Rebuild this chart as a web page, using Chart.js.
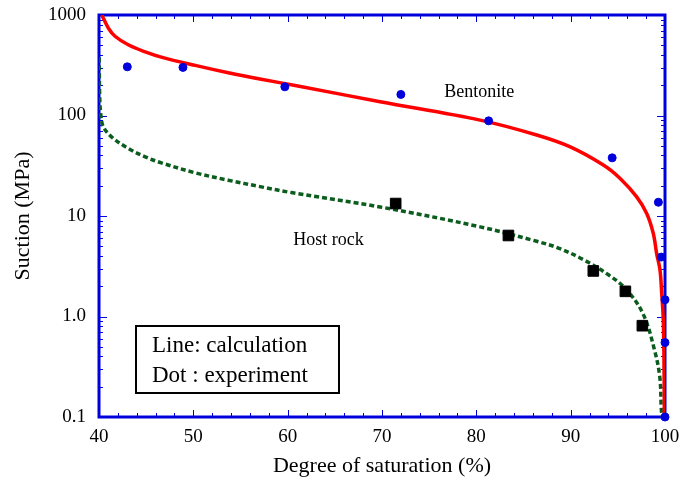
<!DOCTYPE html>
<html>
<head>
<meta charset="utf-8">
<script src="https://cdn.jsdelivr.net/npm/chart.js@4"></script>
<style>
  html, body { margin: 0; padding: 0; background: #fff; }
  #wrap { width: 680px; height: 483px; }
</style>
</head>
<body>
<div id="wrap"><canvas id="chart" width="680" height="483"></canvas></div>
<script>
// ── data ──
const xTicks = [40, 50, 60, 70, 80, 90, 100];
const yTicks = [0.1, 1, 10, 100, 1000];
const yTickLabels = ['0.1', '1.0', '10', '100', '1000'];

// Bentonite, calculation (red line)
const bentCalcX = [40.3, 41.0, 41.7, 43.1, 44.9, 46.6, 50.2, 53.7, 57.2, 60.8, 69.8, 80.4, 86.4, 89.9, 93.5, 95.3, 97.0, 98.06, 98.76, 99.12, 99.47, 99.65, 99.82, 99.9, 99.93];
const bentCalcY = [1000, 739, 615, 505, 430, 381, 315, 266, 229, 199, 137, 90, 64, 49, 32, 23.4, 15.5, 10.6, 6.7, 4.2, 2.9, 1.7, 0.91, 0.29, 0.1];

// Host rock, calculation (green dotted)
const hostCalcX = [40.02, 40.08, 40.2, 40.46, 41.35, 43.1, 44.9, 46.6, 50.2, 53.7, 57.2, 60.4, 69.8, 80.4, 86.4, 88.7, 91.3, 94.0, 95.9, 97.7, 98.9, 99.45, 99.6, 99.68];
const hostCalcY = [380, 150, 100, 77, 61, 47, 38.8, 33.8, 26.9, 22.7, 19.5, 17.1, 12.3, 7.8, 5.6, 4.8, 3.7, 2.6, 1.86, 1.05, 0.46, 0.25, 0.125, 0.1];

// Experiments
const bentExpX = [43.0, 48.9, 59.7, 72.0, 81.3, 94.4, 99.3, 99.6, 100, 100, 100];
const bentExpY = [305, 301, 193, 162, 88.5, 37.9, 13.7, 3.9, 1.47, 0.55, 0.1];
const hostExpX = [71.45, 83.4, 92.4, 95.8, 97.6];
const hostExpY = [13.3, 6.4, 2.84, 1.78, 0.81];

const BLUE = '#0000dd';
const FONT = "'Liberation Serif', 'Times New Roman', serif";

const pts = (xs, ys) => xs.map((x, i) => ({ x, y: ys[i] }));

// ── frame + inward ticks ──
const frameTicks = {
  id: 'frameTicks',
  beforeDatasetsDraw(chart) {
    const { ctx, chartArea: a, scales: { x, y } } = chart;
    ctx.save();
    ctx.strokeStyle = BLUE;
    ctx.lineWidth = 1;
    const seg = (x1, y1, x2, y2) => { ctx.beginPath(); ctx.moveTo(x1, y1); ctx.lineTo(x2, y2); ctx.stroke(); };
    for (let v = 40; v <= 100; v += 2) {
      const px = Math.round(x.getPixelForValue(v)) + 0.5;
      const len = v % 10 === 0 ? 7 : 4;
      seg(px, a.bottom, px, a.bottom - len);
      seg(px, a.top, px, a.top + len);
    }
    for (let d = 0.1; d < 1000; d *= 10) {
      for (let k = 1; k <= 9; k++) {
        const py = Math.round(y.getPixelForValue(d * k)) + 0.5;
        const len = k === 1 ? 8 : 4;
        seg(a.left, py, a.left + len, py);
        seg(a.right, py, a.right - len, py);
      }
    }
    ctx.lineWidth = 3;
    ctx.strokeRect(a.left, a.top, a.right - a.left, a.bottom - a.top);
    ctx.restore();
  },
  afterDraw(chart) {
    const { ctx, scales: { x, y } } = chart;
    ctx.save();
    ctx.fillStyle = '#000';
    ctx.textBaseline = 'middle';
    ctx.font = '18px ' + FONT;
    ctx.fillText('Bentonite', x.getPixelForValue(76.6), y.getPixelForValue(171));
    ctx.fillText('Host rock', x.getPixelForValue(60.6), y.getPixelForValue(5.74));

    // note box
    ctx.strokeStyle = '#000';
    ctx.lineWidth = 2;
    ctx.strokeRect(136, 326, 203, 67);
    ctx.textBaseline = 'alphabetic';
    ctx.font = '23px ' + FONT;
    ctx.fillText('Line: calculation', 152, 352);
    ctx.fillText('Dot : experiment', 152, 382);
    ctx.restore();
  }
};

new Chart(document.getElementById('chart'), {
  type: 'scatter',
  data: {
    datasets: [
      {
        label: 'Bentonite (exp)',
        data: pts(bentExpX, bentExpY),
        backgroundColor: BLUE,
        borderColor: BLUE,
        pointRadius: 4,
        borderWidth: 1,
        clip: false,
        order: 0
      },
      {
        label: 'Host rock (exp)',
        data: pts(hostExpX, hostExpY),
        pointStyle: 'rect',
        backgroundColor: '#000',
        borderColor: '#000',
        pointRadius: 7.5,
        borderWidth: 1,
        clip: false,
        order: 0
      },
      {
        label: 'Bentonite (calc)',
        data: pts(bentCalcX, bentCalcY),
        showLine: true,
        borderColor: '#ff0000',
        borderWidth: 3.5,
        pointRadius: 0,
        tension: 0.35,
        order: 1
      },
      {
        label: 'Host rock (calc)',
        data: pts(hostCalcX, hostCalcY),
        showLine: true,
        borderColor: '#0b5d1e',
        borderWidth: 3.5,
        borderDash: [5, 3],
        pointRadius: 0,
        tension: 0.35,
        order: 1
      }
    ]
  },
  options: {
    responsive: false,
    animation: false,
    layout: { padding: { left: 0, top: 15, right: 15, bottom: 0 } },
    plugins: { legend: { display: false }, tooltip: { enabled: false } },
    scales: {
      x: {
        type: 'linear',
        min: 40,
        max: 100,
        grid: { display: false, drawTicks: false },
        border: { display: false },
        afterBuildTicks: s => { s.ticks = xTicks.map(v => ({ value: v })); },
        afterFit: s => { s.height = 66; s.paddingLeft = 0; s.paddingRight = 0; },
        ticks: { color: '#000', padding: 9, font: { family: FONT, size: 19 }, maxRotation: 0 },
        title: { display: true, text: 'Degree of saturation (%)', color: '#000', font: { family: FONT, size: 22 }, padding: { top: 0, bottom: 4 } }
      },
      y: {
        type: 'logarithmic',
        min: 0.1,
        max: 1000,
        grid: { display: false, drawTicks: false },
        border: { display: false },
        afterBuildTicks: s => { s.ticks = yTicks.map(v => ({ value: v })); },
        afterFit: s => { s.width = 99; s.paddingTop = 0; s.paddingBottom = 0; },
        ticks: {
          color: '#000',
          padding: 13,
          font: { family: FONT, size: 19 },
          callback: v => yTickLabels[yTicks.indexOf(v)] ?? ''
        },
        title: { display: true, text: 'Suction (MPa)', color: '#000', font: { family: FONT, size: 22 }, padding: { top: 10, bottom: 0 } }
      }
    }
  },
  plugins: [frameTicks]
});
</script>
</body>
</html>
